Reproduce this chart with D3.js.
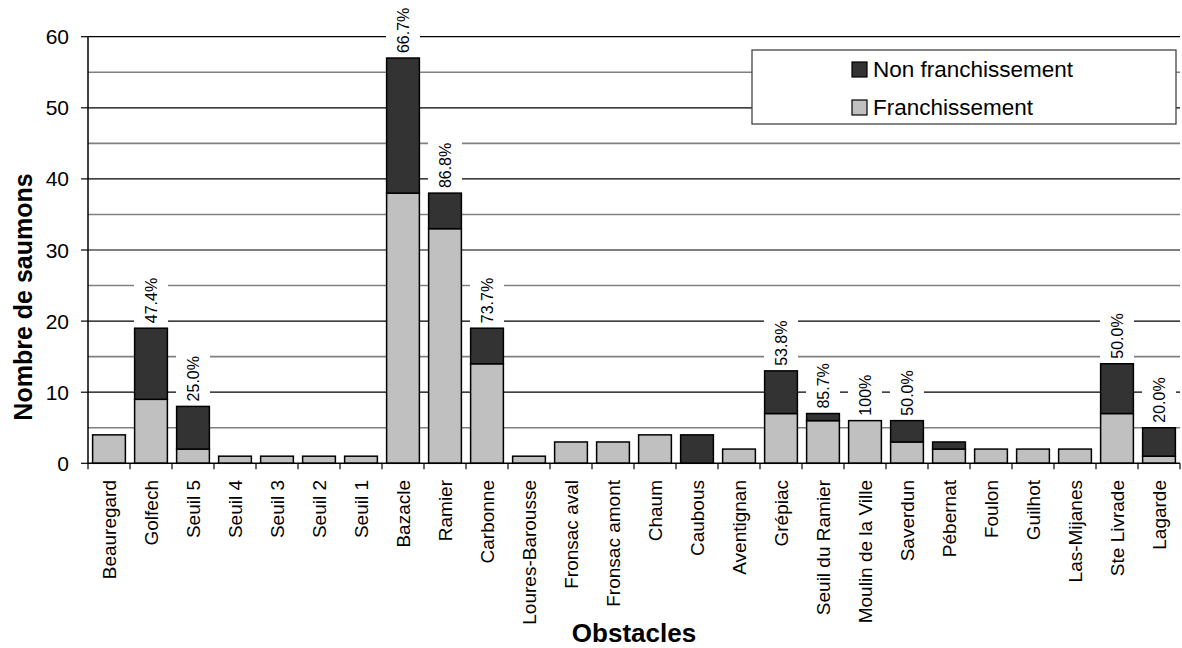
<!DOCTYPE html>
<html>
<head>
<meta charset="utf-8">
<script src="https://cdn.jsdelivr.net/npm/d3@7"></script>
<style>
  body { margin: 0; background: #fff; }
  svg { display: block; font-family: Arial, "Liberation Sans", sans-serif; }
</style>
</head>
<body>
<div id="chart"></div>
<script>
// Données
const obstacles = ["Beauregard", "Golfech", "Seuil 5", "Seuil 4", "Seuil 3", "Seuil 2", "Seuil 1",
  "Bazacle", "Ramier", "Carbonne", "Loures-Barousse", "Fronsac aval", "Fronsac amont", "Chaum",
  "Caubous", "Aventignan", "Grépiac", "Seuil du Ramier", "Moulin de la Ville", "Saverdun",
  "Pébernat", "Foulon", "Guilhot", "Las-Mijanes", "Ste Livrade", "Lagarde"];
const franchissement = [4, 9, 2, 1, 1, 1, 1, 38, 33, 14, 1, 3, 3, 4, 0, 2, 7, 6, 6, 3, 2, 2, 2, 2, 7, 1];
const nonFranchissement = [0, 10, 6, 0, 0, 0, 0, 19, 5, 5, 0, 0, 0, 0, 4, 0, 6, 1, 0, 3, 1, 0, 0, 0, 7, 4];
const pourcentages = [null, "47.4%", "25.0%", null, null, null, null, "66.7%", "86.8%", "73.7%", null,
  null, null, null, null, null, "53.8%", "85.7%", "100%", "50.0%", null, null, null, null, "50.0%", "20.0%"];
const yTicks = [0, 10, 20, 30, 40, 50, 60];

const width = 1182, height = 648;
const plotLeft = 88, plotRight = 1180, plotTop = 36.7, plotBottom = 463.3;

const svg = d3.select("#chart").append("svg")
  .attr("width", width)
  .attr("height", height);

const x = d3.scaleBand()
  .domain(obstacles)
  .range([plotLeft, plotRight])
  .paddingInner(0.22)
  .paddingOuter(0.11);

const y = d3.scaleLinear().domain([0, 60]).range([plotBottom, plotTop]);

// lignes de quadrillage (mineures grises, majeures noires)
const grid = svg.append("g");
d3.range(5, 60, 10).forEach(v => {
  grid.append("line")
    .attr("x1", plotLeft).attr("x2", plotRight)
    .attr("y1", y(v)).attr("y2", y(v))
    .style("stroke", "#808080")
    .style("stroke-width", 1.6);
});
yTicks.filter(v => v > 0).forEach(v => {
  grid.append("line")
    .attr("x1", plotLeft).attr("x2", plotRight)
    .attr("y1", y(v)).attr("y2", y(v))
    .style("stroke", "#000")
    .style("stroke-width", 1.2);
});

// barres empilées
const rows = obstacles.map((d, i) => ({ nom: d, f: franchissement[i], n: nonFranchissement[i], pct: pourcentages[i] }));

const bars = svg.append("g");
rows.forEach(r => {
  if (r.f > 0) {
    bars.append("rect")
      .attr("x", x(r.nom))
      .attr("y", y(r.f))
      .attr("width", x.bandwidth())
      .attr("height", y(0) - y(r.f))
      .style("fill", "#c0c0c0")
      .style("stroke", "#000")
      .style("stroke-width", 1.5);
  }
  if (r.n > 0) {
    bars.append("rect")
      .attr("x", x(r.nom))
      .attr("y", y(r.f + r.n))
      .attr("width", x.bandwidth())
      .attr("height", y(r.f) - y(r.f + r.n))
      .style("fill", "#333333")
      .style("stroke", "#000")
      .style("stroke-width", 1.5);
  }
});

// étiquettes de pourcentage avec fond blanc
const labels = svg.append("g");
rows.filter(r => r.pct).forEach(r => {
  let cx = x(r.nom) + x.bandwidth() / 2;
  let yTop = y(r.f + r.n);
  let g = labels.append("g");
  let bg = g.append("rect").style("fill", "#fff");
  let t = g.append("text")
    .attr("transform", `translate(${cx},${yTop - 5}) rotate(-90)`)
    .attr("dy", "0.35em")
    .style("font-size", "16px")
    .style("fill", "#000")
    .text(r.pct);
  let len = t.node().getComputedTextLength();
  bg.attr("x", cx - 17)
    .attr("y", yTop - 8 - len)
    .attr("width", 34)
    .attr("height", len + 6);
});

// axe Y
svg.append("line")
  .attr("x1", plotLeft).attr("x2", plotLeft)
  .attr("y1", plotTop).attr("y2", plotBottom)
  .style("stroke", "#000").style("stroke-width", 1.5);
yTicks.forEach(v => {
  svg.append("line")
    .attr("x1", plotLeft - 7).attr("x2", plotLeft)
    .attr("y1", y(v)).attr("y2", y(v))
    .style("stroke", "#000").style("stroke-width", 1.2);
  svg.append("text")
    .attr("x", 69)
    .attr("y", y(v))
    .attr("dy", "0.36em")
    .style("text-anchor", "end")
    .style("font-size", "21px")
    .text(v);
});

// axe X
svg.append("line")
  .attr("x1", plotLeft).attr("x2", plotRight)
  .attr("y1", plotBottom).attr("y2", plotBottom)
  .style("stroke", "#000").style("stroke-width", 1.5);
d3.range(obstacles.length + 1).forEach(i => {
  let tx = plotLeft + i * x.step();
  svg.append("line")
    .attr("x1", tx).attr("x2", tx)
    .attr("y1", plotBottom).attr("y2", plotBottom + 6)
    .style("stroke", "#000").style("stroke-width", 1.2);
});
obstacles.forEach(d => {
  let cx = x(d) + x.bandwidth() / 2;
  svg.append("text")
    .attr("transform", `translate(${cx},480) rotate(-90)`)
    .attr("dy", "0.35em")
    .style("text-anchor", "end")
    .style("font-size", "19px")
    .text(d);
});

// titres des axes
svg.append("text")
  .attr("transform", "translate(23,297) rotate(-90)")
  .attr("dy", "0.35em")
  .style("text-anchor", "middle")
  .style("font-size", "25px")
  .style("font-weight", "bold")
  .text("Nombre de saumons");

svg.append("text")
  .attr("x", (plotLeft + plotRight) / 2)
  .attr("y", 642)
  .style("text-anchor", "middle")
  .style("font-size", "26px")
  .style("font-weight", "bold")
  .text("Obstacles");

// légende
const legend = svg.append("g");
legend.append("rect")
  .attr("x", 752).attr("y", 50)
  .attr("width", 424).attr("height", 74)
  .style("fill", "#fff")
  .style("stroke", "#444")
  .style("stroke-width", 1.3);

const legendItems = [
  { label: "Non franchissement", color: "#333333", base: 77 },
  { label: "Franchissement", color: "#c0c0c0", base: 115 }
];
legendItems.forEach(it => {
  legend.append("rect")
    .attr("x", 852).attr("y", it.base - 15)
    .attr("width", 15).attr("height", 15)
    .style("fill", it.color)
    .style("stroke", "#000")
    .style("stroke-width", 1.2);
  legend.append("text")
    .attr("x", 873).attr("y", it.base)
    .style("font-size", "22.5px")
    .text(it.label);
});
</script>
</body>
</html>
